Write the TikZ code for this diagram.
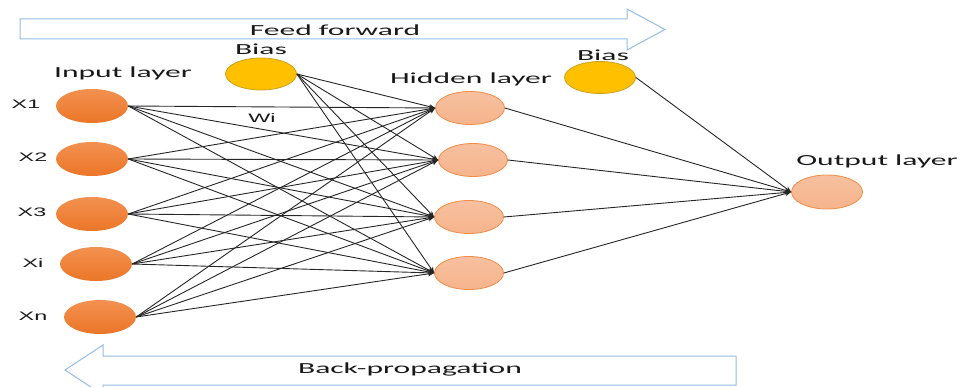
\documentclass[tikz,border=0pt]{standalone}
\usepackage{fontspec}
\usetikzlibrary{shapes.geometric,arrows.meta}
\newfontfamily\lblfont[FakeStretch=2.05]{Carlito}
\newfontfamily\xfont[FakeStretch=1.9]{Liberation Sans}
\definecolor{arrowblue}{RGB}{150,188,228}
\definecolor{inorange}{RGB}{235,118,40}
\definecolor{inorangelight}{RGB}{243,145,80}
\definecolor{hidfill}{RGB}{245,180,140}
\definecolor{hidfilllight}{RGB}{247,192,160}
\definecolor{hiddraw}{RGB}{240,140,70}
\definecolor{biasfill}{RGB}{255,192,0}
\definecolor{biasdraw}{RGB}{205,160,30}
\definecolor{txt}{RGB}{25,25,25}
\tikzset{
  innode/.style={ellipse, minimum width=72pt, minimum height=34pt, inner sep=0pt, top color=inorangelight, bottom color=inorange, draw=none},
  hidnode/.style={ellipse, minimum width=69pt, minimum height=33pt, inner sep=0pt, top color=hidfilllight, bottom color=hidfill, draw=hiddraw, line width=0.8pt},
  biasnode/.style={ellipse, minimum width=71pt, minimum height=32pt, inner sep=0pt, fill=biasfill, draw=biasdraw, line width=0.8pt},
  lbl/.style={text=txt, inner sep=0pt, font=\lblfont\fontsize{15.4}{18}\selectfont},
  xlbl/.style={text=txt, inner sep=0pt, font=\xfont\fontsize{12.3}{14}\selectfont},
  conn/.style={draw=black!85, line width=0.9pt, -{Stealth[length=6pt,width=5pt]}},
  bigarrow/.style={draw=arrowblue, line width=1pt, fill=white, line join=miter}
}
\begin{document}
\begin{tikzpicture}[x=1pt,y=-1pt]
\useasboundingbox (0,0) rectangle (960,387);
\begin{scope}
\clip (0,0) rectangle (960,387);
% feed forward arrow
\draw[bigarrow] (20,19) -- (627,19) -- (627,9) -- (665,29.5) -- (627,50) -- (627,39) -- (20,39) -- cycle;
\node[lbl] (ff) at (335,30) {Feed forward};
% back-propagation arrow
\draw[bigarrow] (736,356) -- (103,356) -- (103,345) -- (65,370) -- (103,395) -- (103,385) -- (736,385) -- cycle;
\node[lbl] (bp) at (410,369) {Back-propagation};
\end{scope}

% input nodes
\node[innode] (i1) at (92,106) {};
\node[innode] (i2) at (92,159) {};
\node[innode] (i3) at (92,214) {};
\node[innode] (i4) at (96,264) {};
\node[innode] (i5) at (100,317) {};
\node[xlbl] (x1) at (26,104) {X1};
\node[xlbl] (x2) at (33,157) {X2};
\node[xlbl] (x3) at (32,212) {X3};
\node[xlbl] (x4) at (33,263) {Xi};
\node[xlbl] (x5) at (33,316) {Xn};
\node[lbl] (inl) at (123,73) {Input layer};

% bias nodes
\node[biasnode] (b1) at (261,74) {};
\node[lbl] (b1l) at (261,49) {Bias};
\node[biasnode] (b2) at (600,77.5) {};
\node[lbl] (b2l) at (603,55) {Bias};

% hidden nodes
\node[hidnode] (h1) at (470,108) {};
\node[hidnode] (h2) at (473,160) {};
\node[hidnode] (h3) at (469,217) {};
\node[hidnode] (h4) at (469,273) {};
\node[lbl] (hl) at (471,79) {Hidden layer};

% output node
\node[hidnode, minimum width=71pt, minimum height=34pt] (o) at (827,192) {};
\node[lbl] (ol) at (877,161) {Output layer};

\node[xlbl] (wi) at (262,118) {Wi};

% connections
\foreach \i in {i1,i2,i3,i4,i5,b1}{
  \foreach \h in {h1,h2,h3,h4}{
    \draw[conn] (\i.east) -- (\h.west);
  }
}
\foreach \h in {h1,h2,h3,h4,b2}{
  \draw[conn] (\h.east) -- (o.west);
}
\end{tikzpicture}
\end{document}
